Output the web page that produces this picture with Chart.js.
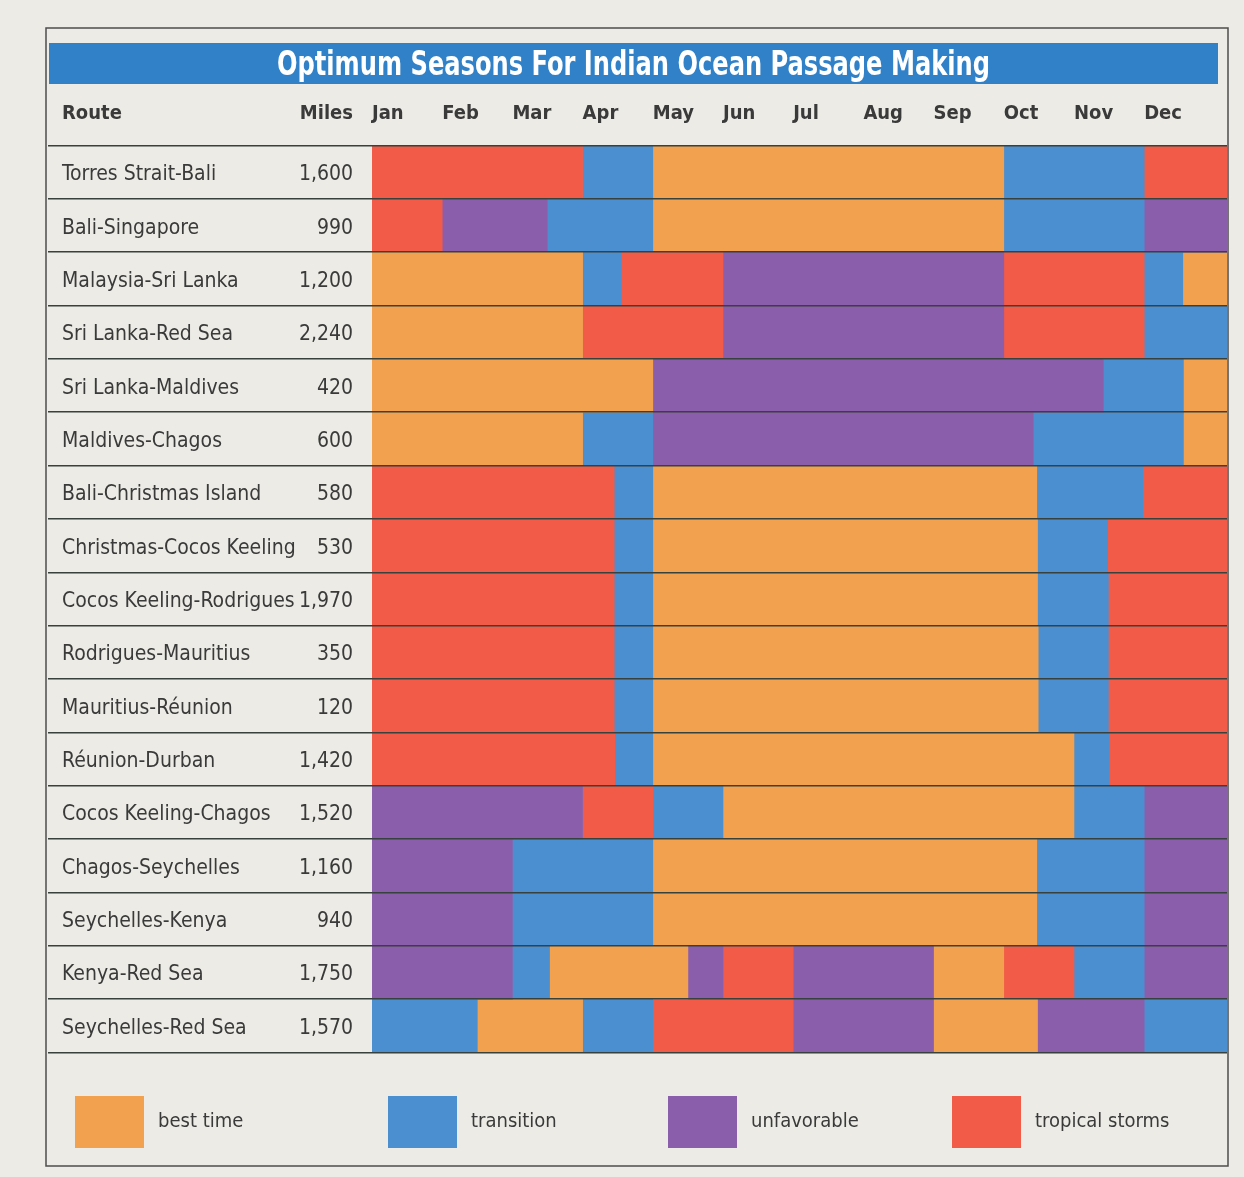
<!DOCTYPE html>
<html lang="en">
<head>
<meta charset="UTF-8">
<title>Optimum Seasons For Indian Ocean Passage Making</title>
<style>
    body {
        margin: 0;
        background-color: #ecebe5;
    }
    canvas {
        display: block;
    }
</style>
</head>
<body>
<canvas id="seasonChart" width="1244" height="1177"></canvas>

<script src="https://cdn.jsdelivr.net/npm/chart.js"></script>
<script>
    var months = ['Jan', 'Feb', 'Mar', 'Apr', 'May', 'Jun', 'Jul', 'Aug', 'Sep', 'Oct', 'Nov', 'Dec'];

    var routes = [
        'Torres Strait-Bali', 'Bali-Singapore', 'Malaysia-Sri Lanka', 'Sri Lanka-Red Sea',
        'Sri Lanka-Maldives', 'Maldives-Chagos', 'Bali-Christmas Island', 'Christmas-Cocos Keeling',
        'Cocos Keeling-Rodrigues', 'Rodrigues-Mauritius', 'Mauritius-Réunion', 'Réunion-Durban',
        'Cocos Keeling-Chagos', 'Chagos-Seychelles', 'Seychelles-Kenya', 'Kenya-Red Sea',
        'Seychelles-Red Sea'
    ];

    var miles = [1600, 990, 1200, 2240, 420, 600, 580, 530, 1970, 350, 120, 1420, 1520, 1160, 940, 1750, 1570];

    var categories = ['best time', 'transition', 'unfavorable', 'tropical storms'];
    var categoryCodes = ['B', 'T', 'U', 'S'];

    // season of each stretch, in order through the year
    // B = best time, T = transition, U = unfavorable, S = tropical storms
    var seasonKinds = [
        'STBTS', 'SUTBTU', 'BTSUSTB', 'BSUST', 'BUTB', 'BTUTB',
        'STBTS', 'STBTS', 'STBTS', 'STBTS', 'STBTS', 'STBTS',
        'USTBTU', 'UTBTU', 'UTBTU', 'UTBUSUBSTU', 'TBTSUBUT'
    ];

    // where each stretch starts/ends, in months (0 = start of Jan, 12 = end of Dec)
    var seasonBreaks = [
        [0, 3, 4, 9, 11, 12],
        [0, 1, 2.5, 4, 9, 11, 12],
        [0, 3, 3.55, 5, 9, 11, 11.55, 12],
        [0, 3, 5, 9, 11, 12],
        [0, 4, 10.42, 11.56, 12],
        [0, 3, 4, 9.42, 11.56, 12],
        [0, 3.45, 4, 9.47, 10.98, 12],
        [0, 3.45, 4, 9.48, 10.48, 12],
        [0, 3.45, 4, 9.48, 10.49, 12],
        [0, 3.45, 4, 9.49, 10.49, 12],
        [0, 3.45, 4, 9.49, 10.49, 12],
        [0, 3.46, 4, 10, 10.5, 12],
        [0, 3, 4, 5, 10, 11, 12],
        [0, 2, 4, 9.47, 11, 12],
        [0, 2, 4, 9.47, 11, 12],
        [0, 2, 2.53, 4.5, 5, 6, 8, 9, 10, 11, 12],
        [0, 1.5, 3, 4, 6, 8, 9.48, 11, 12]
    ];

    var chartTitle = 'Optimum Seasons For Indian Ocean Passage Making';

    var FONT = "'DejaVu Sans Condensed', 'Liberation Sans Narrow', sans-serif";
    var X_MAX = 12.18; // the Dec column runs on out to the frame
    var kindColors = { B: '#f2a14f', T: '#4b8fd1', U: '#8b5eab', S: '#f15b47' };
    var textColor = '#3a3a3a';

    // one dataset per stretch slot, each bar floating [start, end]
    var maxStretches = Math.max.apply(null, seasonKinds.map(function (k) { return k.length; }));
    var datasets = [];
    for (var s = 0; s < maxStretches; s++) {
        var data = [];
        var colors = [];
        routes.forEach(function (r, i) {
            if (s < seasonKinds[i].length) {
                var end = seasonBreaks[i][s + 1];
                data.push([seasonBreaks[i][s], end >= 12 ? X_MAX : end]);
                colors.push(kindColors[seasonKinds[i][s]]);
            } else {
                data.push(null);
                colors.push('rgba(0,0,0,0)');
            }
        });
        datasets.push({
            data: data,
            backgroundColor: colors,
            borderWidth: 0,
            grouped: false,
            barPercentage: 1,
            categoryPercentage: 1
        });
    }

    // frame, title bar, route/miles columns and the legend
    var tablePlugin = {
        id: 'tableFrame',
        beforeDraw: function (chart) {
            var ctx = chart.ctx;
            ctx.save();
            ctx.fillStyle = '#ecebe5';
            ctx.fillRect(0, 0, chart.width, chart.height);
            ctx.strokeStyle = '#4d4d4d';
            ctx.lineWidth = 1.5;
            ctx.strokeRect(46, 28, 1182, 1138);

            // blue title bar, condensed bold title squeezed to the printed width
            ctx.fillStyle = '#3081c8';
            ctx.fillRect(49, 43, 1169, 41);
            ctx.font = 'bold 33px ' + FONT;
            var w = ctx.measureText(chartTitle).width;
            ctx.translate(633.5, 75);
            ctx.scale(713 / w, 1);
            ctx.fillStyle = '#ffffff';
            ctx.textAlign = 'center';
            ctx.textBaseline = 'alphabetic';
            ctx.fillText(chartTitle, 0, 0);
            ctx.restore();
        },
        afterDraw: function (chart) {
            var ctx = chart.ctx;
            var yScale = chart.scales.y;
            var area = chart.chartArea;
            ctx.save();
            ctx.fillStyle = textColor;
            ctx.textBaseline = 'middle';

            var headY = chart.scales.x.bottom - 20 - 12;
            ctx.font = 'bold 20px ' + FONT;
            ctx.textAlign = 'left';
            ctx.fillText('Route', 62, headY);
            ctx.textAlign = 'right';
            ctx.fillText('Miles', 353, headY);

            ctx.font = '21px ' + FONT;
            ctx.textBaseline = 'alphabetic';
            routes.forEach(function (r, i) {
                var py = yScale.getPixelForValue(i) + 8;
                ctx.textAlign = 'left';
                ctx.fillText(r, 62, py);
                ctx.textAlign = 'right';
                ctx.fillText(miles[i].toLocaleString('en-US'), 353, py);
            });

            var legendX = [75, 388, 668, 952];
            var legendY = area.bottom + 69.5;
            ctx.font = '20px ' + FONT;
            ctx.textAlign = 'left';
            ctx.textBaseline = 'middle';
            categories.forEach(function (c, k) {
                ctx.fillStyle = kindColors[categoryCodes[k]];
                ctx.fillRect(legendX[k], legendY - 26, 69, 52);
                ctx.fillStyle = textColor;
                ctx.fillText(c, legendX[k] + 83, legendY);
            });
            ctx.restore();
        }
    };

    var ctx = document.getElementById('seasonChart').getContext('2d');
    var seasonChart = new Chart(ctx, {
        type: 'bar',
        data: {
            labels: routes,
            datasets: datasets
        },
        plugins: [tablePlugin],
        options: {
            indexAxis: 'y',
            responsive: false,
            animation: false,
            devicePixelRatio: 1,
            layout: {
                padding: { left: 48, right: 17, top: 84, bottom: 124.5 }
            },
            plugins: {
                legend: { display: false },
                tooltip: { enabled: false },
                title: { display: false }
            },
            scales: {
                x: {
                    type: 'linear',
                    position: 'top',
                    min: 0,
                    max: X_MAX,
                    afterBuildTicks: function (scale) {
                        scale.ticks = months.map(function (m, i) { return { value: i }; });
                    },
                    afterFit: function (scale) {
                        scale.height = 61.5;
                    },
                    grid: { display: false, drawTicks: false },
                    border: { display: false },
                    ticks: {
                        autoSkip: false,
                        maxRotation: 0,
                        minRotation: 0,
                        align: 'start',
                        padding: 20,
                        color: textColor,
                        font: { family: FONT, size: 20, weight: 'bold' },
                        callback: function (value) {
                            return months[value];
                        }
                    }
                },
                y: {
                    type: 'category',
                    offset: true,
                    afterFit: function (scale) {
                        scale.width = 324;
                    },
                    grid: {
                        offset: true,
                        color: '#37413d',
                        lineWidth: 1.6,
                        drawTicks: true,
                        tickLength: 324,
                        z: 1
                    },
                    border: { display: false },
                    ticks: { display: false }
                }
            }
        }
    });
</script>
</body>
</html>
